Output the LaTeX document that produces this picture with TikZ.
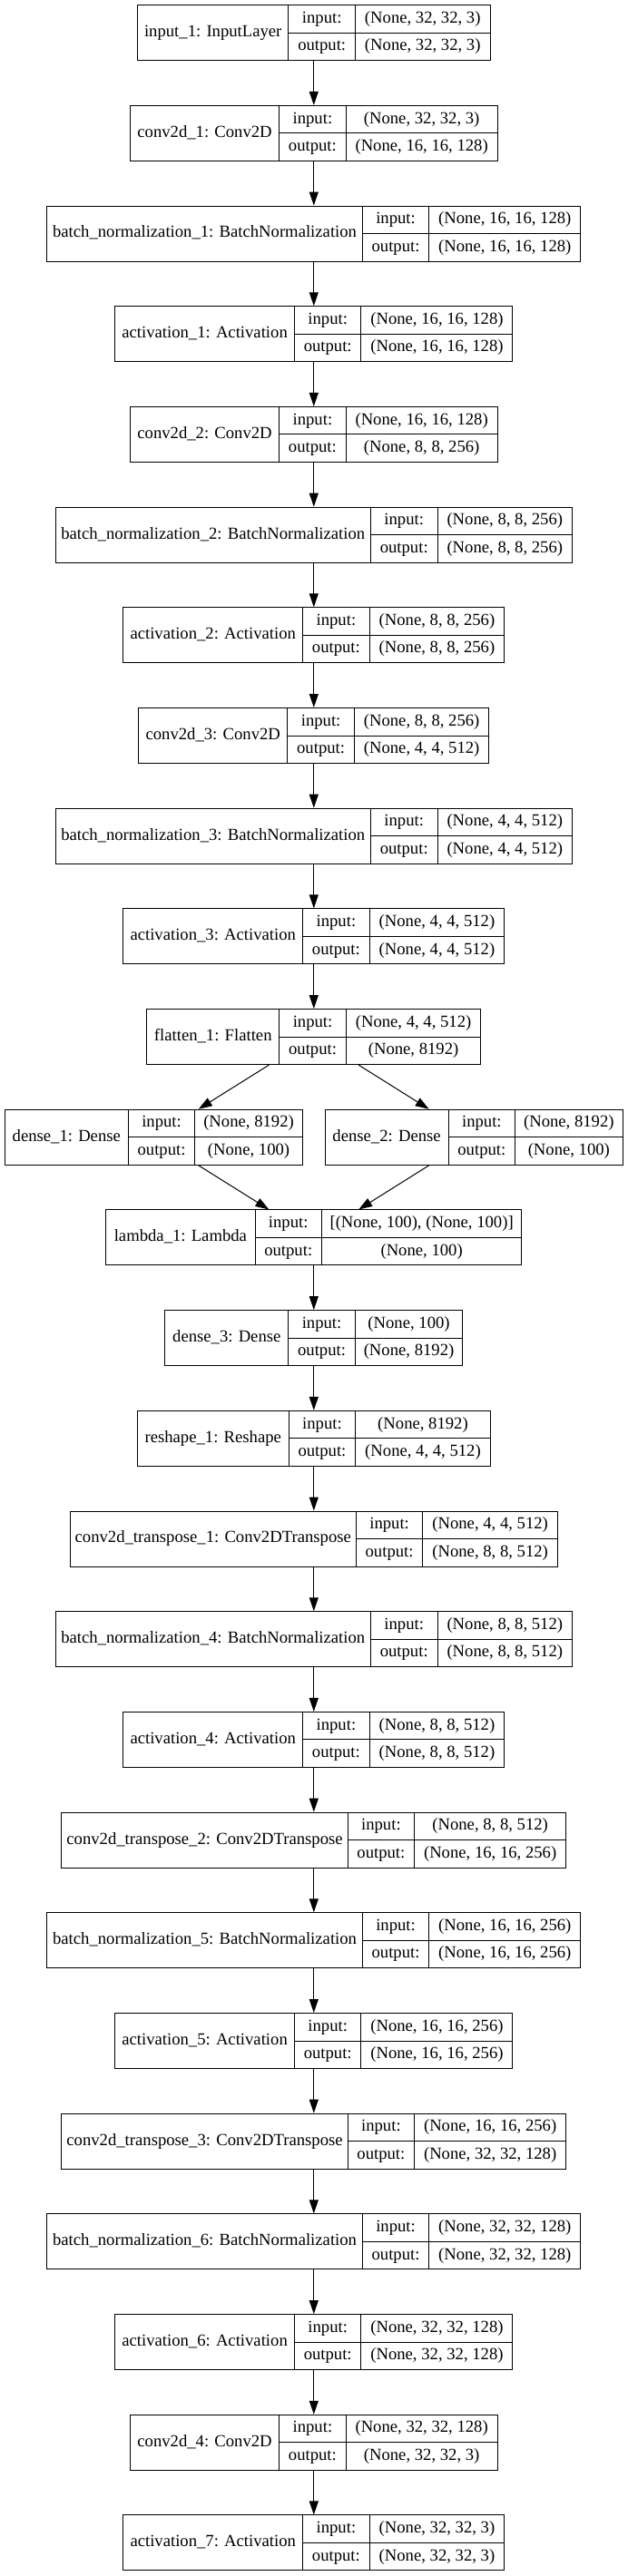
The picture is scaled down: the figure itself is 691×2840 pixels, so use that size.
\documentclass[tikz,border=0pt]{standalone}
\usepackage{fontspec}
\setmainfont{Liberation Serif}
\usetikzlibrary{arrows.meta}

% Capa del modelo: nombre | input:/output: | formas
% #1 nombre del nodo, #2 fila, #3 centro x, #4 ancho nombre, #5 ancho formas
\newcommand{\capa}[8]{%
  \pgfmathsetmacro{\cyM}{36.2+110.69*#2}%
  \pgfmathsetmacro{\cxA}{#3-(#4+73.5+#5)/2}%
  \pgfmathsetmacro{\cxB}{\cxA+#4}%
  \pgfmathsetmacro{\cxC}{\cxB+73.5}%
  \pgfmathsetmacro{\cxD}{\cxC+#5}%
  \node[caja, minimum width={#4+73.5+#5}] (#1) at (#3,\cyM) {};
  \draw (\cxB,\cyM-30.5) -- (\cxB,\cyM+30.5)
        (\cxC,\cyM-30.5) -- (\cxC,\cyM+30.5)
        (\cxB,\cyM) -- (\cxD,\cyM);
  \node[texto] (#1-nombre) at ({(\cxA+\cxB)/2},\cyM) {#6};
  \node[texto] (#1-in) at ({(\cxB+\cxC)/2},\cyM-15.25) {input:};
  \node[texto] (#1-out) at ({(\cxB+\cxC)/2},\cyM+15.25) {output:};
  \node[texto] (#1-forma-in) at ({(\cxC+\cxD)/2},\cyM-15.25) {#7};
  \node[texto] (#1-forma-out) at ({(\cxC+\cxD)/2},\cyM+15.25) {#8};
}

\begin{document}
\begin{tikzpicture}[x=1pt, y=-1pt, line width=1pt,
    caja/.style={draw, rectangle, inner sep=0pt, minimum height=61pt},
    texto/.style={inner sep=0pt, text height=12.9pt, text depth=4.1pt,
      font=\fontsize{18.67}{22}\selectfont},
    flecha/.style={-{Triangle[length=15pt,width=10pt]}}]
        \useasboundingbox (0,0) rectangle (691,2840);

        % Codificador
        \capa{input1}{0}{345.8}{166.4}{148.6}{input\_1: InputLayer}{(None, 32, 32, 3)}{(None, 32, 32, 3)}
        \capa{conv1}{1}{345.8}{164.2}{167}{conv2d\_1: Conv2D}{(None, 32, 32, 3)}{(None, 16, 16, 128)}
        \capa{bn1}{2}{345.8}{347.5}{167}{batch\_normalization\_1: BatchNormalization}{(None, 16, 16, 128)}{(None, 16, 16, 128)}
        \capa{act1}{3}{345.8}{197.8}{167}{activation\_1: Activation}{(None, 16, 16, 128)}{(None, 16, 16, 128)}
        \capa{conv2}{4}{345.8}{164.2}{167}{conv2d\_2: Conv2D}{(None, 16, 16, 128)}{(None, 8, 8, 256)}
        \capa{bn2}{5}{345.8}{347.5}{148.6}{batch\_normalization\_2: BatchNormalization}{(None, 8, 8, 256)}{(None, 8, 8, 256)}
        \capa{act2}{6}{345.8}{197.8}{148.6}{activation\_2: Activation}{(None, 8, 8, 256)}{(None, 8, 8, 256)}
        \capa{conv3}{7}{345.8}{164.2}{148.6}{conv2d\_3: Conv2D}{(None, 8, 8, 256)}{(None, 4, 4, 512)}
        \capa{bn3}{8}{345.8}{347.5}{148.6}{batch\_normalization\_3: BatchNormalization}{(None, 4, 4, 512)}{(None, 4, 4, 512)}
        \capa{act3}{9}{345.8}{197.8}{148.6}{activation\_3: Activation}{(None, 4, 4, 512)}{(None, 4, 4, 512)}
        \capa{flat1}{10}{345.8}{146.1}{148.6}{flatten\_1: Flatten}{(None, 4, 4, 512)}{(None, 8192)}

        % Las dos ramas densas y el muestreo
        \capa{dense1}{11}{169.3}{136}{118.5}{dense\_1: Dense}{(None, 8192)}{(None, 100)}
        \capa{dense2}{11}{522.1}{136}{118.5}{dense\_2: Dense}{(None, 8192)}{(None, 100)}
        \capa{lambda1}{12}{345.8}{164.2}{220.3}{lambda\_1: Lambda}{[(None, 100), (None, 100)]}{(None, 100)}

        % Decodificador
        \capa{dense3}{13}{345.8}{136}{118.5}{dense\_3: Dense}{(None, 100)}{(None, 8192)}
        \capa{reshape1}{14}{345.8}{166.9}{148.6}{reshape\_1: Reshape}{(None, 8192)}{(None, 4, 4, 512)}
        \capa{convt1}{15}{345.8}{315.2}{148.6}{conv2d\_transpose\_1: Conv2DTranspose}{(None, 4, 4, 512)}{(None, 8, 8, 512)}
        \capa{bn4}{16}{345.8}{347.5}{148.6}{batch\_normalization\_4: BatchNormalization}{(None, 8, 8, 512)}{(None, 8, 8, 512)}
        \capa{act4}{17}{345.8}{197.8}{148.6}{activation\_4: Activation}{(None, 8, 8, 512)}{(None, 8, 8, 512)}
        \capa{convt2}{18}{345.8}{315.2}{167}{conv2d\_transpose\_2: Conv2DTranspose}{(None, 8, 8, 512)}{(None, 16, 16, 256)}
        \capa{bn5}{19}{345.8}{347.5}{167}{batch\_normalization\_5: BatchNormalization}{(None, 16, 16, 256)}{(None, 16, 16, 256)}
        \capa{act5}{20}{345.8}{197.8}{167}{activation\_5: Activation}{(None, 16, 16, 256)}{(None, 16, 16, 256)}
        \capa{convt3}{21}{345.8}{315.2}{167}{conv2d\_transpose\_3: Conv2DTranspose}{(None, 16, 16, 256)}{(None, 32, 32, 128)}
        \capa{bn6}{22}{345.8}{347.5}{167}{batch\_normalization\_6: BatchNormalization}{(None, 32, 32, 128)}{(None, 32, 32, 128)}
        \capa{act6}{23}{345.8}{197.8}{167}{activation\_6: Activation}{(None, 32, 32, 128)}{(None, 32, 32, 128)}
        \capa{conv4}{24}{345.8}{164.2}{167}{conv2d\_4: Conv2D}{(None, 32, 32, 128)}{(None, 32, 32, 3)}
        \capa{act7}{25}{345.8}{197.8}{148.6}{activation\_7: Activation}{(None, 32, 32, 3)}{(None, 32, 32, 3)}

        % Flechas entre capas
        \draw[flecha] (input1) -- (conv1);
        \draw[flecha] (conv1) -- (bn1);
        \draw[flecha] (bn1) -- (act1);
        \draw[flecha] (act1) -- (conv2);
        \draw[flecha] (conv2) -- (bn2);
        \draw[flecha] (bn2) -- (act2);
        \draw[flecha] (act2) -- (conv3);
        \draw[flecha] (conv3) -- (bn3);
        \draw[flecha] (bn3) -- (act3);
        \draw[flecha] (act3) -- (flat1);
        \draw[flecha] (flat1) -- (dense1);
        \draw[flecha] (flat1) -- (dense2);
        \draw[flecha] (dense1) -- (lambda1);
        \draw[flecha] (dense2) -- (lambda1);
        \draw[flecha] (lambda1) -- (dense3);
        \draw[flecha] (dense3) -- (reshape1);
        \draw[flecha] (reshape1) -- (convt1);
        \draw[flecha] (convt1) -- (bn4);
        \draw[flecha] (bn4) -- (act4);
        \draw[flecha] (act4) -- (convt2);
        \draw[flecha] (convt2) -- (bn5);
        \draw[flecha] (bn5) -- (act5);
        \draw[flecha] (act5) -- (convt3);
        \draw[flecha] (convt3) -- (bn6);
        \draw[flecha] (bn6) -- (act6);
        \draw[flecha] (act6) -- (conv4);
        \draw[flecha] (conv4) -- (act7);
\end{tikzpicture}
\end{document}
